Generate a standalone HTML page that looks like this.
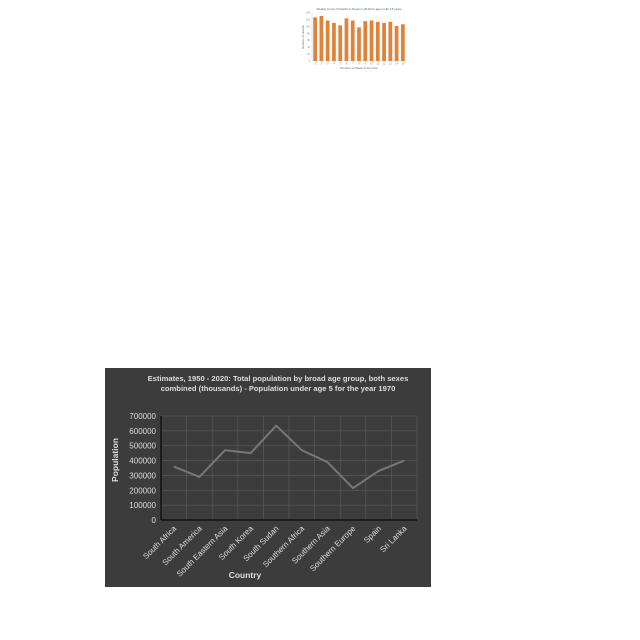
<!DOCTYPE html>
<html><head><meta charset="utf-8"><style>
html,body{margin:0;padding:0;background:#fff;width:640px;height:640px;overflow:hidden}
svg{position:absolute;left:0;top:0}
text{font-family:"Liberation Sans",sans-serif}
</style></head><body>
<svg width="640" height="640">
<g id="bar"></g>
<g id="line"></g>
</svg>
<script>
const barWeeks=["1","2","3","4","5","6","7","8","9","10","11","12","13","14","15"];
const barValues=[126,130,117,110,103,123,117,97,115,117,113,110,113,101,106];
const barTicks=[0,20,40,60,80,100,120,140];

const countries=["South Africa","South America","South Eastern Asia","South Korea","South Sudan","Southern Africa","Southern Asia","Southern Europe","Spain","Sri Lanka"];
const population=[360000,290000,470000,450000,635000,470000,390000,215000,330000,400000];
const popTicks=[0,100000,200000,300000,400000,500000,600000,700000];

const NS="http://www.w3.org/2000/svg";
function mk(p,tag,a,txt){const e=document.createElementNS(NS,tag);for(const k in a)e.setAttribute(k,a[k]);if(txt!==undefined)e.textContent=txt;p.appendChild(e);return e;}

// small bar chart
(function(){
const g=document.getElementById('bar');
const x0=312,x1=406,y0=61,y1=12.5,max=140;
const ys=v=>y0-(v/max)*(y0-y1);
const bw=(x1-x0)/barValues.length;
let t=mk(g,'text',{x:359,y:10,'font-size':'3','text-anchor':'middle',fill:'#3a5a9a'},'Weekly count of Deaths in Texas in 2019 for age under 15 years');

barTicks.forEach(v=>{
 const l=mk(g,'text',{x:x0-2,y:ys(v)+1,'font-size':'2.5','text-anchor':'end',fill:'#888'},v);
 
});
mk(g,'line',{x1:x0,y1:y1,x2:x0,y2:y0,stroke:'#ccc','stroke-width':0.5});
mk(g,'line',{x1:x0,y1:y0,x2:x1,y2:y0,stroke:'#ccc','stroke-width':0.5});
barValues.forEach((v,i)=>{
 const r=mk(g,'rect',{x:x0+i*bw+bw*0.2,y:ys(v),width:bw*0.6,height:y0-ys(v),fill:'#e0833a'});
 
 
 const l=mk(g,'text',{x:x0+i*bw+bw/2,y:y0+3.5,'font-size':'2.5','text-anchor':'middle',fill:'#888'},barWeeks[i]);
 
});
t=mk(g,'text',{x:359,y:69,'font-size':'3','text-anchor':'middle',fill:'#666'},'Number of Week of the Year');

t=mk(g,'text',{x:0,y:0,'font-size':'3','text-anchor':'middle',fill:'#666',transform:'translate(304,37) rotate(-90)'},'Number of deaths');

})();

// dark line chart
(function(){
const g=document.getElementById('line');
const bg=mk(g,'rect',{x:105,y:368,width:326,height:219,fill:'#3c3c3c'});

const px0=161,px1=417,py0=520,py1=416,max=700000;
const ys=v=>py0-(v/max)*(py0-py1);
const bw=(px1-px0)/countries.length;
const xs=i=>px0+bw*(i+0.5);
let t=mk(g,'text',{x:278,y:381,'font-size':'7.6','font-weight':'bold','text-anchor':'middle',fill:'#ddd'},'Estimates, 1950 - 2020: Total population by broad age group, both sexes');

t=mk(g,'text',{x:278,y:391,'font-size':'7.6','font-weight':'bold','text-anchor':'middle',fill:'#ddd'},'combined (thousands) - Population under age 5 for the year 1970');

popTicks.forEach(v=>{
 mk(g,'line',{x1:px0,y1:ys(v),x2:px1,y2:ys(v),stroke:'#555','stroke-width':0.8});
 const l=mk(g,'text',{x:156,y:ys(v)+3,'font-size':'8','text-anchor':'end',fill:'#ddd'},v);
 
});
for(let i=0;i<=countries.length;i++){
 mk(g,'line',{x1:px0+bw*i,y1:py1,x2:px0+bw*i,y2:py0,stroke:'#555','stroke-width':0.8});
}
mk(g,'line',{x1:px0,y1:py1,x2:px0,y2:py0,stroke:'#111','stroke-width':1.5});
mk(g,'line',{x1:px0,y1:py0,x2:px1,y2:py0,stroke:'#111','stroke-width':1.5});
const pts=population.map((v,i)=>xs(i)+','+ys(v)).join(' ');
const pl=mk(g,'polyline',{points:pts,fill:'none',stroke:'#777','stroke-width':2});

countries.forEach((c,i)=>{
 const l=mk(g,'text',{x:0,y:0,'font-size':'8','text-anchor':'end',fill:'#ddd',transform:`translate(${xs(i)+3},${py0+9}) rotate(-45)`},c);
 
});
t=mk(g,'text',{x:245,y:578,'font-size':'8.5','font-weight':'bold','text-anchor':'middle',fill:'#ddd'},'Country');

t=mk(g,'text',{x:0,y:0,'font-size':'8.5','font-weight':'bold','text-anchor':'middle',fill:'#ddd',transform:'translate(118,460) rotate(-90)'},'Population');

})();
</script>
</body></html>
